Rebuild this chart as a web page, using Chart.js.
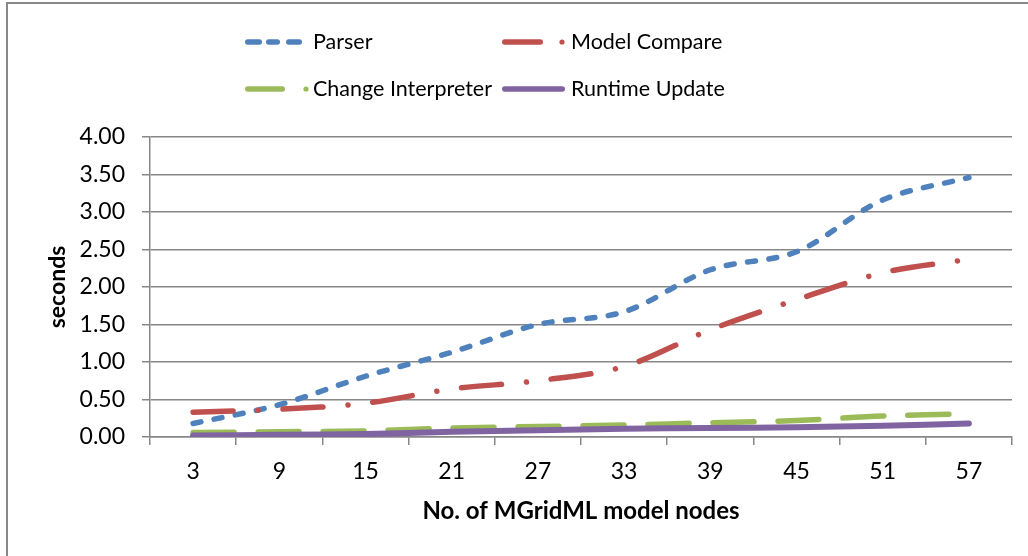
<!DOCTYPE html>
<html>
<head>
<meta charset="utf-8">
<script src="https://cdn.jsdelivr.net/npm/chart.js@4"></script>
<style>
html,body{margin:0;padding:0;background:#fff;}
#wrap{position:relative;width:1028px;height:556px;}
</style>
</head>
<body>
<div id="wrap"><canvas id="c" width="1028" height="556"></canvas></div>
<script>
// ---- data ----
const categories = ['3', '9', '15', '21', '27', '33', '39', '45', '51', '57'];
const parser = [0.18, 0.43, 0.81, 1.13, 1.50, 1.67, 2.23, 2.47, 3.16, 3.46];
const modelCompare = [0.33, 0.37, 0.45, 0.64, 0.75, 0.94, 1.43, 1.83, 2.19, 2.37];
const changeInterpreter = [0.06, 0.07, 0.08, 0.12, 0.14, 0.16, 0.19, 0.22, 0.28, 0.31];
const runtimeUpdate = [0.02, 0.03, 0.04, 0.07, 0.09, 0.11, 0.12, 0.13, 0.15, 0.18];
const seriesNames = ['Parser', 'Model Compare', 'Change Interpreter', 'Runtime Update'];
const yTicks = [0, 0.5, 1, 1.5, 2, 2.5, 3, 3.5, 4];
const xTitle = 'No. of MGridML model nodes';
const yTitle = 'seconds';

const FONT = 'Lato';
const GRID = '#878787';
const colors = ['#4F81BD', '#C0504D', '#9BBB59', '#8064A2'];

const legendLayout = [
  {textX: 313, base: 49, lineY: 42, parts: [['s', 245, 262], ['s', 266, 280], ['s', 286, 302]]},
  {textX: 571, base: 49, lineY: 42, parts: [['s', 502, 543], ['d', 562]]},
  {textX: 313, base: 96, lineY: 89, parts: [['s', 245, 285], ['d', 306]]},
  {textX: 571, base: 96, lineY: 89, parts: [['s', 502, 565]]}
];

const frameLegend = {
  id: 'frameLegend',
  beforeDraw(chart) {
    const ctx = chart.ctx;
    ctx.save();
    ctx.strokeStyle = '#888888';
    ctx.lineWidth = 2;
    ctx.beginPath();
    ctx.moveTo(7, 600);
    ctx.lineTo(7, 3);
    ctx.lineTo(1100, 3);
    ctx.stroke();
    ctx.restore();
  },
  afterDraw(chart) {
    const ctx = chart.ctx;
    ctx.save();
    chart.data.datasets.forEach((ds, i) => {
      const L = legendLayout[i];
      ctx.strokeStyle = ds.borderColor;
      ctx.fillStyle = ds.borderColor;
      ctx.lineWidth = 5.5;
      ctx.lineCap = 'round';
      L.parts.forEach(p => {
        if (p[0] === 's') {
          ctx.beginPath();
          ctx.moveTo(p[1] + 2.75, L.lineY);
          ctx.lineTo(p[2] - 2.75, L.lineY);
          ctx.stroke();
        } else {
          ctx.beginPath();
          ctx.arc(p[1], L.lineY, 2.6, 0, Math.PI * 2);
          ctx.fill();
        }
      });
      ctx.fillStyle = '#000';
      ctx.font = '21.5px ' + FONT;
      ctx.textAlign = 'left';
      ctx.textBaseline = 'alphabetic';
      ctx.fillText(ds.label, L.textX, L.base);
    });
    ctx.restore();
  }
};

const lineBase = {fill: false, pointRadius: 0, pointHoverRadius: 0, tension: 0.33, borderCapStyle: 'round', borderJoinStyle: 'round'};

new Chart(document.getElementById('c'), {
  type: 'line',
  data: {
    labels: categories,
    datasets: [
      Object.assign({}, lineBase, {label: seriesNames[0], data: parser, borderColor: colors[0], borderWidth: 5.5, borderDash: [8, 13.5], order: 3}),
      Object.assign({}, lineBase, {label: seriesNames[1], data: modelCompare, borderColor: colors[1], borderWidth: 5.5, borderDash: [40, 25, 0.01, 25], order: 2}),
      Object.assign({}, lineBase, {label: seriesNames[2], data: changeInterpreter, borderColor: colors[2], borderWidth: 5.5, borderDash: [41, 24], order: 1}),
      Object.assign({}, lineBase, {label: seriesNames[3], data: runtimeUpdate, borderColor: colors[3], borderWidth: 6, order: 0})
    ]
  },
  options: {
    responsive: false,
    animation: false,
    devicePixelRatio: 1,
    layout: {padding: {top: 137, right: 16, left: 0, bottom: 0}},
    plugins: {legend: {display: false}, tooltip: {enabled: false}},
    scales: {
      x: {
        offset: true,
        afterFit(s) { s.height = 119; },
        grid: {offset: true, drawOnChartArea: false, drawTicks: true, tickLength: 8, color: GRID, lineWidth: 1.5},
        border: {display: true, color: GRID, width: 1.5},
        ticks: {color: '#000', font: {family: FONT, size: 23}, padding: 13, maxRotation: 0, autoSkip: false},
        title: {display: true, text: xTitle, color: '#000', font: {family: FONT, size: 24, weight: 'bold'}, padding: {top: 0, bottom: 30}}
      },
      y: {
        min: 0, max: 4,
        afterFit(s) { s.width = 150; },
        afterBuildTicks(s) { s.ticks = yTicks.map(v => ({value: v})); },
        grid: {color: GRID, lineWidth: 1.5, tickLength: 8, drawTicks: true},
        border: {display: true, color: GRID, width: 1.5},
        ticks: {color: '#000', font: {family: FONT, size: 23}, padding: 17, callback: v => Number(v).toFixed(2)},
        title: {display: true, text: yTitle, color: '#000', font: {family: FONT, size: 23, weight: 'bold'}, padding: {top: 44, bottom: 0}}
      }
    }
  },
  plugins: [frameLegend]
});
</script>
</body>
</html>
